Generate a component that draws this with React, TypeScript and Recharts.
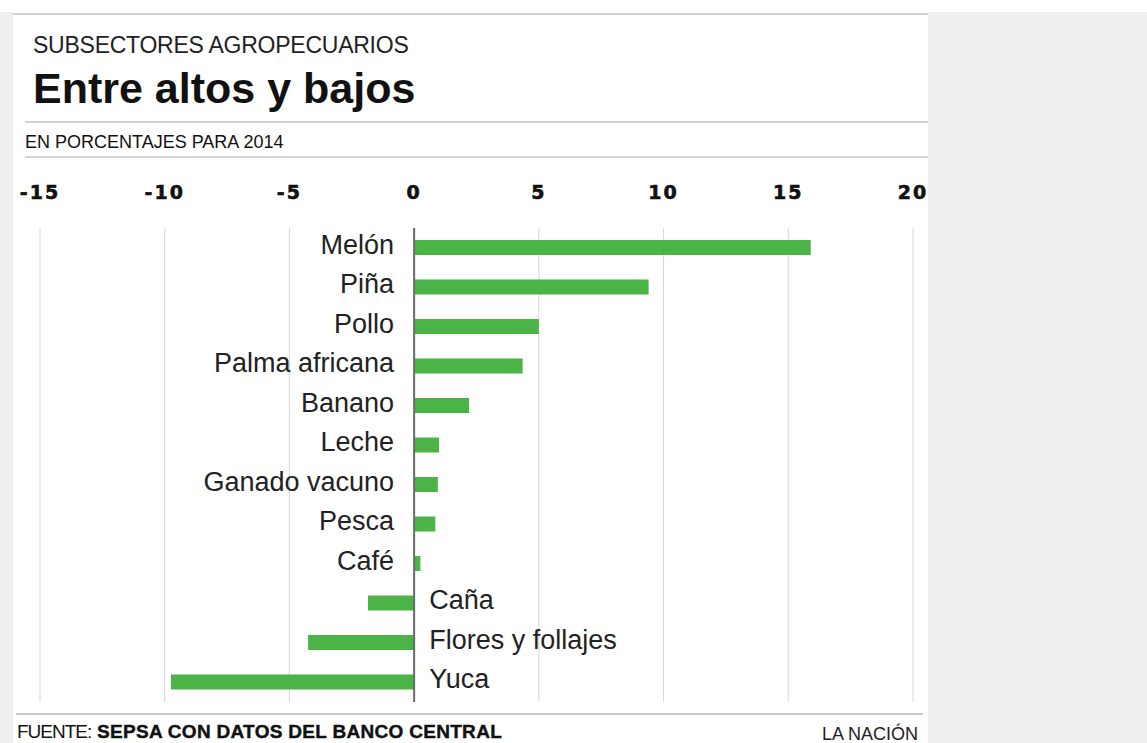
import { Bar, BarChart, CartesianGrid, LabelList, ReferenceLine, XAxis, YAxis } from 'recharts';

// subsectors, ordered as in the graphic (top to bottom)
const categories = [
  'Melón',
  'Piña',
  'Pollo',
  'Palma africana',
  'Banano',
  'Leche',
  'Ganado vacuno',
  'Pesca',
  'Café',
  'Caña',
  'Flores y follajes',
  'Yuca',
];

// % change for 2014
const values = [15.9, 9.4, 5.0, 4.35, 2.2, 1.0, 0.95, 0.85, 0.25, -1.85, -4.25, -9.75];

const xTicks = [-15, -10, -5, 0, 5, 10, 15, 20];

const data = categories.map((name, i) => ({ name, value: values[i] }));

const SANS = "'Liberation Sans', Arial, Helvetica, sans-serif";

const AxisTick = (props: any) => {
  const { x, y, payload } = props;
  return (
    <text
      x={x}
      y={y}
      dy={-21}
      textAnchor="middle"
      fontFamily="'DejaVu Sans', sans-serif"
      fontWeight={700}
      fontSize={19}
      letterSpacing={2}
      fill="#111"
      stroke="#111"
      strokeWidth={0.6}
    >
      {payload.value}
    </text>
  );
};

const NameLabel = (props: any) => {
  const box = props.viewBox ?? props;
  const x = Number(box.x ?? props.x);
  const y = Number(box.y ?? props.y);
  const w = Number(box.width ?? props.width);
  const h = Number(box.height ?? props.height);
  const v = values[props.index] ?? 0;
  const left = Math.min(x, x + w);
  const right = Math.max(x, x + w);
  const cy = y + h / 2;
  if (v >= 0) {
    return (
      <text x={left - 20} y={cy + 6} textAnchor="end" fontFamily={SANS} fontSize={27} fill="#222">
        {props.value}
      </text>
    );
  }
  return (
    <text x={right + 15} y={cy + 6} textAnchor="start" fontFamily={SANS} fontSize={27} fill="#222">
      {props.value}
    </text>
  );
};

export default function App() {
  return (
    <div
      style={{
        position: 'absolute',
        left: 0,
        top: 0,
        width: 1147,
        height: 743,
        background: '#efefef',
        overflow: 'hidden',
      }}
    >
      <div style={{ position: 'absolute', left: 0, top: 0, width: 1147, height: 12, background: '#fff' }} />
      <div style={{ position: 'absolute', left: 13, top: 0, width: 915, height: 743, background: '#fff' }} />

      <svg width={1147} height={743} style={{ position: 'absolute', left: 0, top: 0 }}>
        <line x1={13} x2={928} y1={14} y2={14} stroke="#cfcfcf" strokeWidth={2} />
        <line x1={25} x2={928} y1={122} y2={122} stroke="#c4c4c4" strokeWidth={1.5} />
        <line x1={25} x2={928} y1={157} y2={157} stroke="#c4c4c4" strokeWidth={1.5} />
        <line x1={16} x2={923} y1={714} y2={714} stroke="#c8c8c8" strokeWidth={2} />

        <text x={33} y={53} fontFamily={SANS} fontSize={23} letterSpacing={-0.25} fill="#222">
          SUBSECTORES AGROPECUARIOS
        </text>
        <text x={33} y={103} fontFamily={SANS} fontSize={43} fontWeight={700} fill="#111">
          Entre altos y bajos
        </text>
        <text x={25} y={148} fontFamily={SANS} fontSize={18} fill="#111">
          EN PORCENTAJES PARA 2014
        </text>

        <text x={17} y={738} fontFamily={SANS} fontSize={19} letterSpacing={-1} fill="#111">
          FUENTE:
        </text>
        <text
          x={97}
          y={738}
          fontFamily={SANS}
          fontSize={19}
          fontWeight={700}
          letterSpacing={0.3}
          fill="#111"
          stroke="#111"
          strokeWidth={0.4}
        >
          SEPSA CON DATOS DEL BANCO CENTRAL
        </text>
        <text x={918} y={740} textAnchor="end" fontFamily={SANS} fontSize={18} fill="#222">
          LA NACIÓN
        </text>
      </svg>

      <div style={{ position: 'absolute', left: 0, top: 0 }}>
        <BarChart
          width={928}
          height={743}
          layout="vertical"
          data={data}
          margin={{ top: 188, right: 15, bottom: 41, left: 40 }}
        >
          <CartesianGrid horizontal={false} stroke="#d6d6d6" />
          <XAxis
            type="number"
            orientation="top"
            domain={[-15, 20]}
            ticks={xTicks}
            interval={0}
            axisLine={false}
            tickLine={false}
            height={40}
            tick={<AxisTick />}
          />
          <YAxis type="category" dataKey="name" hide />
          <Bar dataKey="value" fill="#4cb447" barSize={15} isAnimationActive={false}>
            <LabelList dataKey="name" content={<NameLabel />} />
          </Bar>
          <ReferenceLine x={0} stroke="#6b6b6b" strokeWidth={2} />
        </BarChart>
      </div>
    </div>
  );
}
